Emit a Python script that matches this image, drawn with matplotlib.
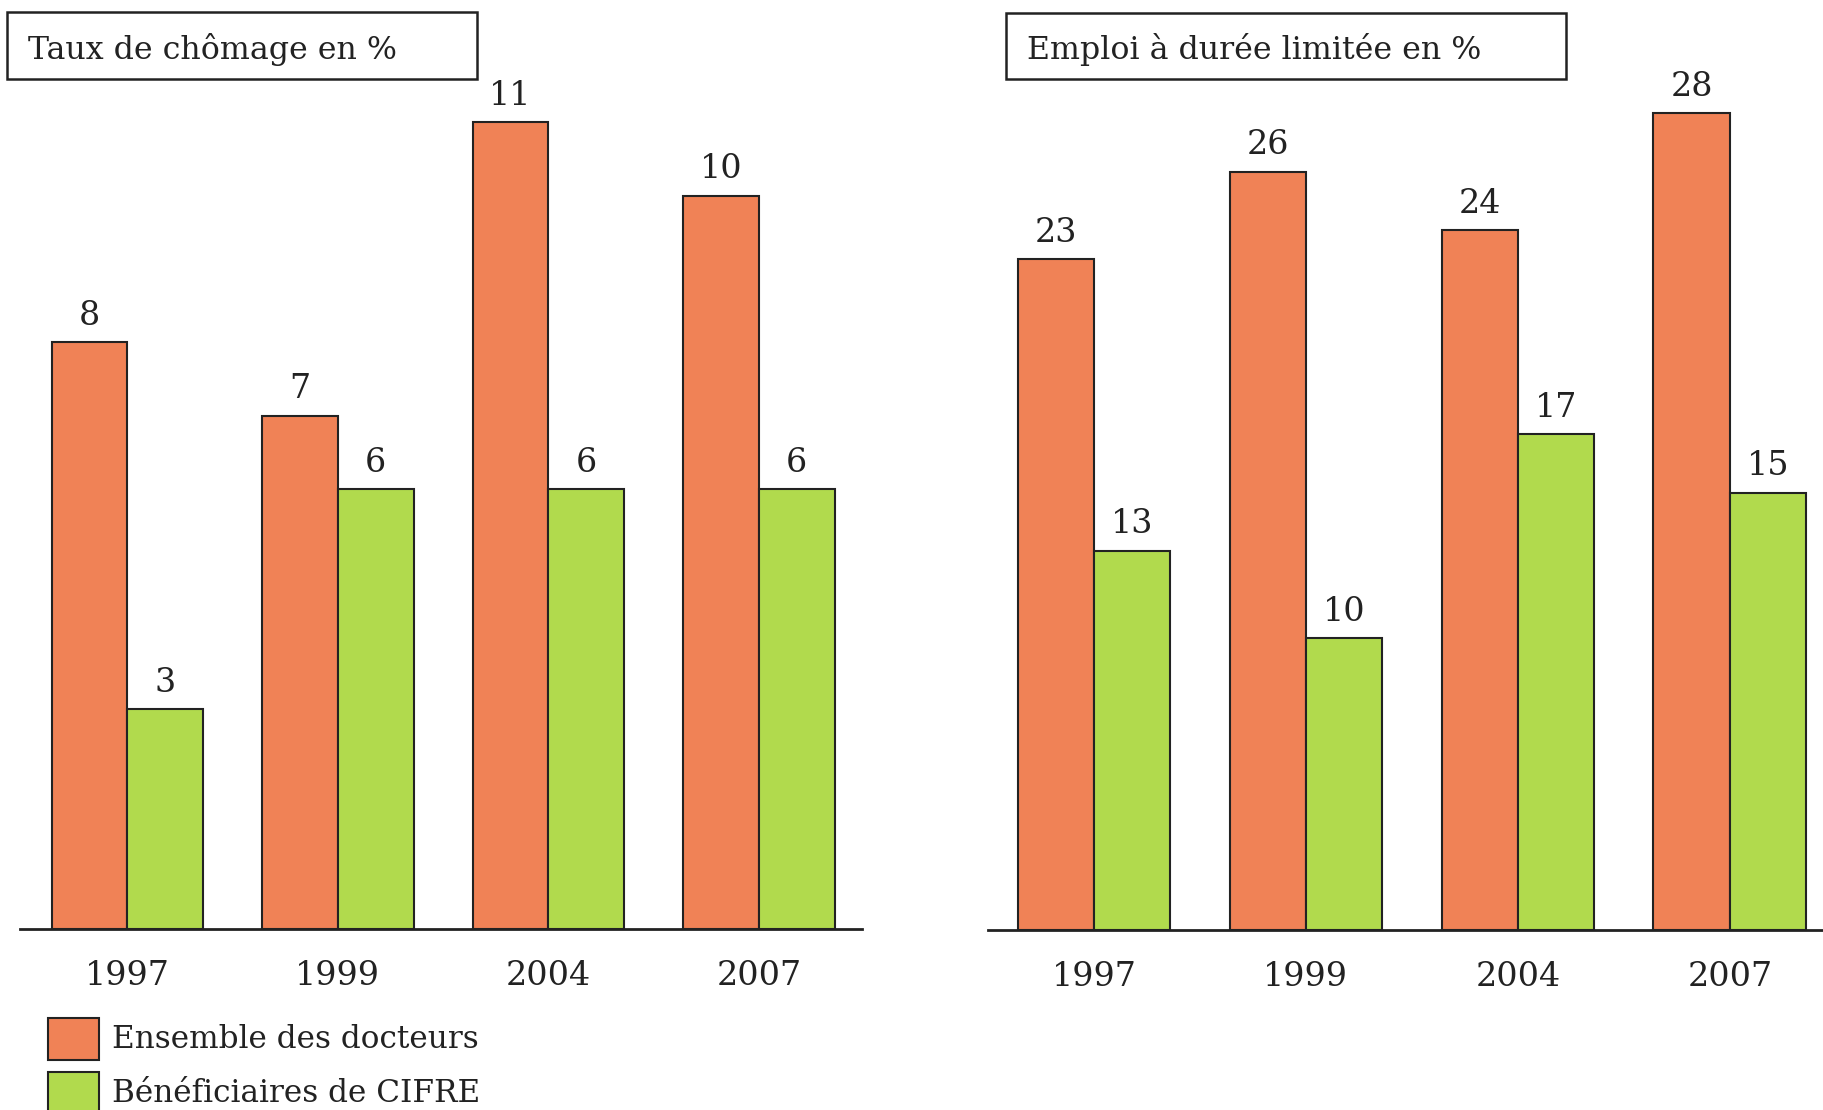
import matplotlib
matplotlib.use("Agg")
import matplotlib.pyplot as plt
from matplotlib.patches import Rectangle
import numpy as np

years = ["1997", "1999", "2004", "2007"]
chomage_ensemble = [8, 7, 11, 10]
chomage_cifre = [3, 6, 6, 6]
cdd_ensemble = [23, 26, 24, 28]
cdd_cifre = [13, 10, 17, 15]
title_left = "Taux de chômage en %"
title_right = "Emploi à durée limitée en %"
legend_labels = ["Ensemble des docteurs", "Bénéficiaires de CIFRE"]

ORANGE = "#F08256"
GREEN = "#B1DA4D"
EDGE = "#222222"
FONT = "DejaVu Serif"
plt.rcParams["font.family"] = [FONT]

W, H = 1823, 1110
fig = plt.figure(figsize=(W / 100, H / 100), dpi=100)


def px_axes(x0, x1, ybase, ytop):
    return fig.add_axes([x0 / W, 1 - ybase / H, (x1 - x0) / W, (ybase - ytop) / H])


def draw(ax, a, b, ymax, xmin, xmax):
    x = np.arange(len(years))
    w = 0.36
    ba = ax.bar(x - w / 2, a, w, color=ORANGE, edgecolor=EDGE, linewidth=1.5)
    bb = ax.bar(x + w / 2, b, w, color=GREEN, edgecolor=EDGE, linewidth=1.5)
    for bars, vals in ((ba, a), (bb, b)):
        for r, v in zip(bars, vals):
            ax.annotate(str(v), (r.get_x() + r.get_width() / 2, v),
                        xytext=(0, 19), textcoords="offset points",
                        ha="center", va="center", fontsize=24, color="#222222")
    ax.set_xlim(xmin, xmax)
    ax.set_ylim(0, ymax)
    ax.set_xticks(x)
    ax.set_xticklabels(years, fontsize=24, color="#222222")
    ax.tick_params(axis="x", length=0, pad=22)
    ax.set_yticks([])
    for s in ("top", "left", "right"):
        ax.spines[s].set_visible(False)
    ax.spines["bottom"].set_linewidth(2)
    ax.spines["bottom"].set_color("#222222")
    ax.patch.set_alpha(0)


ax1 = px_axes(20, 862, 929, 49)
draw(ax1, chomage_ensemble, chomage_cifre, 12, -0.51, 3.49)
ax2 = px_axes(988, 1823, 930, 55)
draw(ax2, cdd_ensemble, cdd_cifre, 30, -0.5, 3.44)

# title boxes
def title_box(x0, y0, x1, y1, tx, text):
    fig.patches.append(Rectangle((x0 / W, 1 - y1 / H), (x1 - x0) / W, (y1 - y0) / H,
                                 transform=fig.transFigure, fill=False,
                                 edgecolor="#222222", linewidth=1.8))
    fig.text(tx / W, 1 - ((y0 + y1) / 2 + 4) / H, text, ha="left", va="center",
             fontsize=22.8, color="#222222")

title_box(7, 12, 477, 79, 28, title_left)
title_box(1006, 13, 1566, 79, 1027, title_right)

# legend
for (y0, y1, col, lab, ty) in ((1018, 1060, ORANGE, legend_labels[0], 1040),
                               (1072, 1114, GREEN, legend_labels[1], 1094)):
    fig.patches.append(Rectangle((48 / W, 1 - y1 / H), 51 / W, (y1 - y0) / H,
                                 transform=fig.transFigure, facecolor=col,
                                 edgecolor=EDGE, linewidth=1.5))
    fig.text(112 / W, 1 - ty / H, lab, ha="left", va="center",
             fontsize=22.4, color="#222222")

fig.savefig("out.png", dpi=100, facecolor="white")
